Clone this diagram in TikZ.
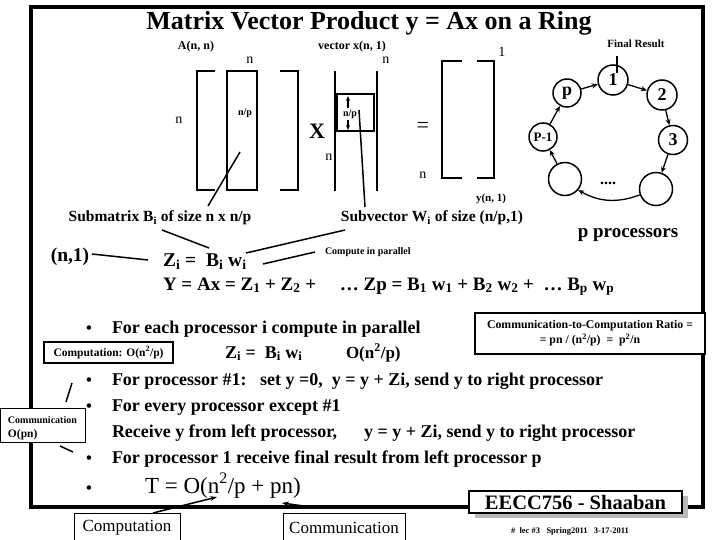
\documentclass[tikz,border=0pt]{standalone}
\usepackage{fontspec}
\setmainfont{Liberation Serif}
\usetikzlibrary{arrows.meta}
\newcommand\fsz[2]{\fontsize{#1}{#2}\selectfont}
\begin{document}
\begin{tikzpicture}[x=1pt,y=-1pt,
  txt/.style={inner sep=0pt, outer sep=0pt},
  heavy/.style={line width=1.8pt},
  thinl/.style={line width=1.4pt},
  frameline/.style={line width=3.5pt},
  proc/.style={circle, draw, line width=1.5pt, inner sep=0pt, minimum size=30pt, font=\fsz{18}{20}\bfseries},
  ringarrow/.style={line width=1.3pt, -{Stealth[length=6pt,width=5pt]}},
  lead/.style={line width=1.5pt},
  boxed/.style={draw, line width=1.3pt, fill=white, inner sep=0pt},
  tip/.style={-{Stealth[length=7pt,width=5pt]}},
  bul/.style={txt, anchor=base west, font=\fsz{18}{20}\bfseries},
  dot/.style={txt, anchor=base, font=\fsz{16.5}{20}\bfseries},
]
\useasboundingbox (0,0) rectangle (720,540);
% frame
\draw[frameline] (31,7) rectangle (703,507);
% title
\node[txt, anchor=base] (title) at (369,30) {\fsz{26}{30}\bfseries Matrix Vector Product y = Ax on a Ring};
% top labels
\node[txt, anchor=base] (alab) at (196,50) {\fsz{12}{14}\bfseries A(n, n)};
\node[txt, anchor=base] (ntop) at (248,64) {\fsz{14}{16} n};
\node[txt, anchor=base] (xlab) at (352,50) {\fsz{12}{14}\bfseries vector x(n, 1)};
\node[txt, anchor=base] (nx) at (384,64) {\fsz{14}{16} n};
\node[txt, anchor=base] (one) at (500,57) {\fsz{14}{16} 1};
\node[txt, anchor=base] (final) at (636,48) {\fsz{11}{13}\bfseries Final Result};
% matrix A
\draw[heavy] (215,71) -- (197,71) -- (197,190) -- (215,190);
\draw[heavy] (227,71) rectangle (257,190);
\draw[heavy] (280,71) -- (298,71) -- (298,190) -- (280,190);
\node[txt, anchor=base] (nleft) at (177,124) {\fsz{14}{16} n};
\node[txt] (np1) at (245,113) {\fsz{10}{12}\bfseries n/p};
% X
\node[txt] (times) at (317,131) {\fsz{22}{24}\bfseries X};
% vector x
\draw[heavy] (335,71) -- (335,191);
\draw[heavy] (377,71) -- (377,191);
\draw[heavy] (337,94) rectangle (374,131);
\node[txt] (np2) at (350,114) {\fsz{10}{12}\bfseries n/p};
\draw[thinl, -{Stealth[length=5pt,width=4pt]}] (348,108) -- (348,96);
\draw[thinl, -{Stealth[length=5pt,width=4pt]}] (348,120) -- (348,130);
\node[txt, anchor=base] (nx2) at (327,161) {\fsz{14}{16} n};
% equals
\node[txt] (eq) at (420,127) {\fsz{22}{24} =};
\node[txt, anchor=base] (ny) at (421,179) {\fsz{14}{16} n};
% vector y
\draw[heavy] (462,61) -- (442,61) -- (442,178) -- (462,178);
\draw[heavy] (477,61) -- (494,61) -- (494,178) -- (477,178);
\node[txt] (ylab) at (491,199) {\fsz{11}{13}\bfseries y(n, 1)};
% ring
\node[proc] (c1) at (613,80) {1};
\node[proc, minimum size=28pt] (cp) at (567,93) {p};
\node[proc] (c2) at (662,95) {2};
\node[proc, minimum size=29pt] (c3) at (673,140) {3};
\node[proc, minimum size=33pt] (cbr) at (656,189) {};
\node[proc, minimum size=33pt] (cbl) at (565,179) {};
\node[proc, minimum size=28pt, font=\fsz{13}{15}\bfseries] (cP1) at (543,137) {P-1};
\draw[ringarrow] (cp) -- (c1);
\draw[ringarrow] (c1) -- (c2);
\draw[ringarrow] (c2) -- (c3);
\draw[ringarrow] (c3) -- (cbr);
\draw[ringarrow] (cbr.200) to[bend left=25] (cbl.-40);
\draw[ringarrow] (cbl) -- (cP1);
\draw[ringarrow] (cP1) -- (cp);
\node[txt] (dots) at (608,183) {\fsz{16}{18}\bfseries ....};
\coordinate (frtop) at (617,56);
\draw[thinl] (frtop) -- (617,73);
\node[txt] (procs) at (628,235) {\fsz{19}{21}\bfseries p processors};
% labels
\node[txt] (sub) at (160,218) {\fsz{15.5}{18}\bfseries Submatrix B\textsubscript{i} of size n x n/p};
\node[txt] (subv) at (432,218) {\fsz{15.5}{18}\bfseries Subvector W\textsubscript{i} of size (n/p,1)};
\node[txt] (n1) at (70,257) {\fsz{19.5}{22}\bfseries (n,1)};
\node[txt, anchor=west] (cip) at (325,252) {\fsz{10}{12}\bfseries Compute in parallel};
\node[txt, anchor=base west] (zi) at (163,266) {\fsz{19.5}{22}\bfseries Z\textsubscript{i} =\ \ B\textsubscript{i} w\textsubscript{i}};
\node[txt, anchor=base west] (yeq) at (163,290) {\fsz{19}{22}\bfseries Y = Ax = Z\textsubscript{1} + Z\textsubscript{2} +\ \ \ \ \ … Zp\ = B\textsubscript{1} w\textsubscript{1} + B\textsubscript{2} w\textsubscript{2} +\ \ … B\textsubscript{p} w\textsubscript{p}};
% leader lines
\coordinate (sl1) at (240,152); \coordinate (sl2) at (208,206);
\draw[lead] (sl1) -- (sl2);
\coordinate (vl1) at (359,110); \coordinate (vl2) at (365,207);
\draw[lead] (vl1) -- (vl2);
\coordinate (a1) at (162,230); \coordinate (a2) at (209,248);
\draw[lead] (a1) -- (a2);
\coordinate (b1) at (345,230); \coordinate (b2) at (246,253);
\draw[lead] (b1) -- (b2);
\coordinate (c1a) at (315,252); \coordinate (c1b) at (263,264);
\draw[lead] (c1a) -- (c1b);
\coordinate (d1) at (92,254); \coordinate (d2) at (148,260);
\draw[lead] (d1) -- (d2);
% bullets
\node[dot] (b1d) at (89,333) {•};
\node[bul] (l1) at (112,333) {For\ each processor i compute in parallel};
\node[boxed, minimum width=129pt, minimum height=21pt, font=\fsz{11.5}{13}\bfseries] (compbox) at (108.5,352.5) {Computation: O(n\textsuperscript{2}/p)};
\node[txt, anchor=base west, font=\fsz{18}{20}\bfseries] (zi2) at (225,358) {Z\textsubscript{i} =\ \ B\textsubscript{i} w\textsubscript{i}};
\node[txt, anchor=base west, font=\fsz{17}{20}\bfseries] (on2) at (346,358) {O(n\textsuperscript{2}/p)};
\node[dot] (b2d) at (89,385) {•};
\node[bul] (l2) at (112,385) {For processor \#1:\ \ \ set y =0,\ \ y = y + Zi, send y to right processor};
\node[dot] (b3d) at (89,411) {•};
\node[bul] (l3) at (112,411) {For\ every processor\ except \#1};
\node[bul] (l4) at (112,437) {Receive y from left processor,\ \ \ \ \ \ y = y + Zi, send y to right processor};
\node[dot] (b4d) at (89,463) {•};
\node[bul] (l5) at (112,463) {For processor 1 receive final result from left processor p};
\node[dot] (b5d) at (89,493) {•};
\node[txt, anchor=base west, font=\fsz{23}{26}] (tt) at (145,493) {T = O(n\textsuperscript{2}/p + pn)};
% communication box on left
\node[boxed, minimum width=85pt, minimum height=34pt, anchor=north west] (commbox) at (0,408) {};
\node[txt, anchor=base west, font=\fsz{10}{11}\bfseries] (commt) at (8,423) {Communication};
\node[txt, anchor=base west, font=\fsz{11.5}{13}\bfseries] (commo) at (8,437) {O(pn)};
\coordinate (e1) at (66,402); \coordinate (e2) at (72,383);
\draw[lead] (e1) -- (e2);
\coordinate (f1) at (60,446); \coordinate (f2) at (73,452);
\draw[lead] (f1) -- (f2);
% ratio box
\node[boxed, minimum width=230pt, minimum height=41pt, align=center, font=\fsz{11.8}{15}\bfseries] (ratio) at (590,333.5) {Communication-to-Computation Ratio =\\ = pn / (n\textsuperscript{2}/p)\ \ =\ \ p\textsuperscript{2}/n};
% bottom boxes
\node[boxed, minimum width=106pt, minimum height=32pt, anchor=north west] (cbox) at (74,513) {};
\node[txt, font=\fsz{17}{19}] (ctext) at (127,528) {Computation};
\node[boxed, minimum width=122pt, minimum height=32pt, anchor=north west] (mbox) at (283,513) {};
\node[txt, font=\fsz{17}{19}] (mtext) at (344,528) {Communication};
\coordinate (g1) at (153,513); \coordinate (g2) at (217,497);
\draw[lead, tip] (g1) -- (g2);
\coordinate (h1) at (318,508); \coordinate (h2) at (282,503);
\draw[lead, tip] (h1) -- (h2);
% Shaaban
\fill[gray!55] (475,496) rectangle (688,518);
\node[boxed, minimum width=213pt, minimum height=22pt, font=\fsz{20.5}{24}\bfseries] (shaaban) at (575.5,502) {EECC756 - Shaaban};
\node[txt, font=\fsz{8.5}{10}\bfseries] (lec) at (570,531) {\#\ \ lec \#3\ \ \ Spring2011\ \ \ 3-17-2011};
\end{tikzpicture}
\end{document}
